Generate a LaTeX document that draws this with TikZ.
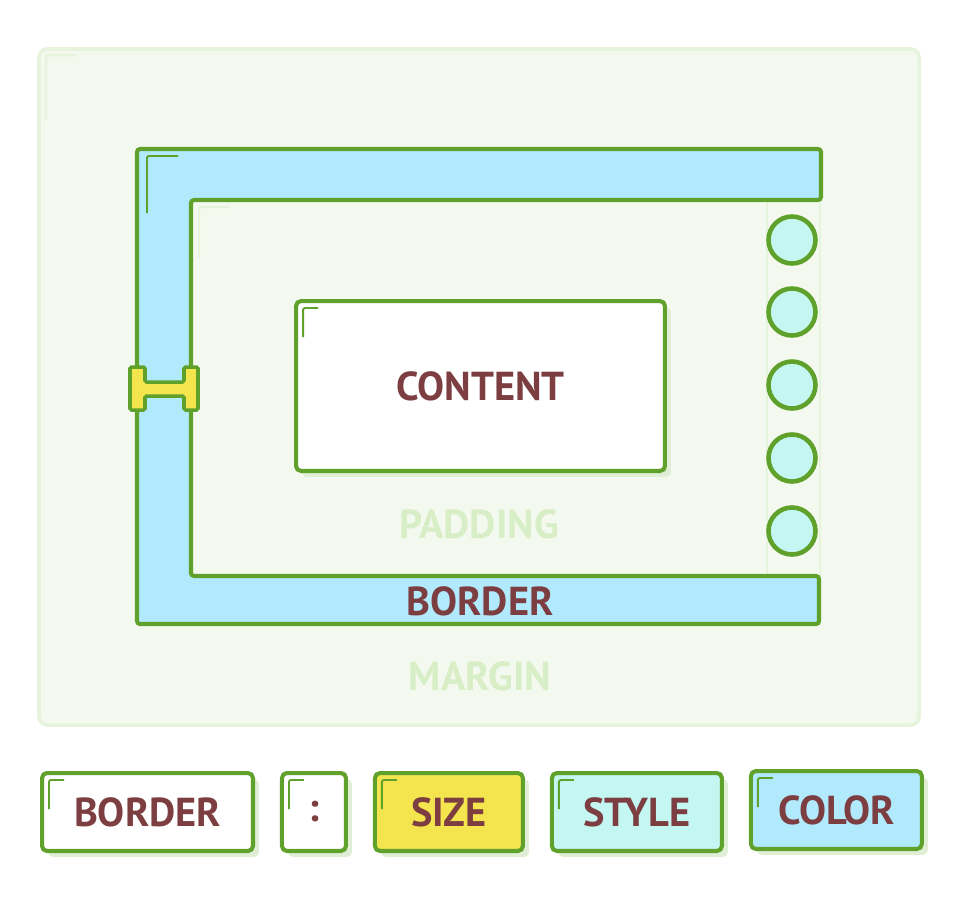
\documentclass[tikz,border=0pt]{standalone}
\usepackage{fontspec}
\setmainfont{PT Sans}
\usepackage{tikz}
\usetikzlibrary{positioning,
                shadows}                    % copy shadow behind the boxes

\definecolor{linegreen}{HTML}{5FA12B}
\definecolor{marginfill}{HTML}{F4F9EF}
\definecolor{margingreen}{HTML}{E6F3DD}
\definecolor{palegreen}{HTML}{D8EEC6}
\definecolor{shadowgreen}{HTML}{E0EED6}
\definecolor{borderblue}{HTML}{B2EAFD}
\definecolor{stylecyan}{HTML}{C4F6F2}
\definecolor{sizeyellow}{HTML}{F4E54E}
\definecolor{wordred}{HTML}{7C3E40}

\begin{document}
\begin{tikzpicture}[x=0.02cm, y=-0.02cm,
    word/.style={font=\fontsize{23}{24}\selectfont\bfseries, text=wordred},
    paleword/.style={word, text=palegreen},
    box/.style={word, draw=linegreen, line width=2.3pt, rounded corners=0.1cm,
        outer sep=0pt, minimum height=1.56cm,
        copy shadow={shadow xshift=0.12cm, shadow yshift=-0.12cm, draw=none, fill=shadowgreen}},
    accent/.style={linegreen, line width=1.1pt, rounded corners=0.04cm},
    dot/.style={circle, draw=linegreen, line width=2.6pt, fill=stylecyan, minimum size=0.94cm},
    node distance=0.58cm]
    \useasboundingbox (0,0) rectangle (970,900);

    % margin
    \draw[draw=margingreen, fill=marginfill, line width=2pt, rounded corners=0.16cm]
        (39,49) rectangle (919,725);
    \draw[accent, margingreen, line width=1.6pt] (46,120) |- (76,55);

    % padding edges on the right
    \draw[margingreen, line width=1.3pt] (767,200) -- (767,576);
    \draw[margingreen, line width=1.3pt] (820,200) -- (820,576);
    \draw[accent, margingreen, line width=1.4pt] (199,258) |- (230,207);

    % border
    \draw[draw=linegreen, fill=borderblue, line width=2.3pt, rounded corners=0.06cm]
        (137,149) -- (821,149) -- (821,200) -- (191,200) -- (191,576)
        -- (819,576) -- (819,624) -- (137,624) -- cycle;
    \draw[accent] (147,213) |- (178,156);

    % size marker
    \draw[draw=linegreen, fill=sizeyellow, line width=2pt, rounded corners=0.03cm]
        (130,367) -- (145,367) -- (145,382) -- (184,382) -- (184,367) -- (198,367)
        -- (198,410) -- (184,410) -- (184,396) -- (145,396) -- (145,410) -- (130,410) -- cycle;

    % style dots
    \foreach \y [count=\i] in {240,312,385,458,531}
        \node[dot] (dot\i) at (792,\y) {};

    % content
    \node[box, fill=white, minimum width=7.38cm, minimum height=3.4cm] (content) at (480.5,386) {CONTENT};

    \node[paleword] (padding) at (479,524) {PADDING};
    \node[word] (border) at (480,601) {BORDER};
    \node[paleword] (margin) at (480,676) {MARGIN};

    % border : size style color
    \node[box, fill=white, minimum width=4.22cm] (kw) at (147.5,812) {BORDER};
    \node[box, fill=white, minimum width=1.28cm, right=of kw] (colon) {:};
    \node[box, fill=sizeyellow, minimum width=2.96cm, right=of colon] (size) {SIZE};
    \node[box, fill=stylecyan, minimum width=3.4cm, right=of size] (style) {STYLE};
    \node[box, fill=borderblue, minimum width=3.42cm, right=of style, yshift=0.04cm] (color) {COLOR};

    \foreach \n in {content,kw,colon,size,style,color}
        \draw[accent] ([shift={(7,36)}]\n.north west) |- ([shift={(22,7)}]\n.north west);

\end{tikzpicture}
\end{document}
